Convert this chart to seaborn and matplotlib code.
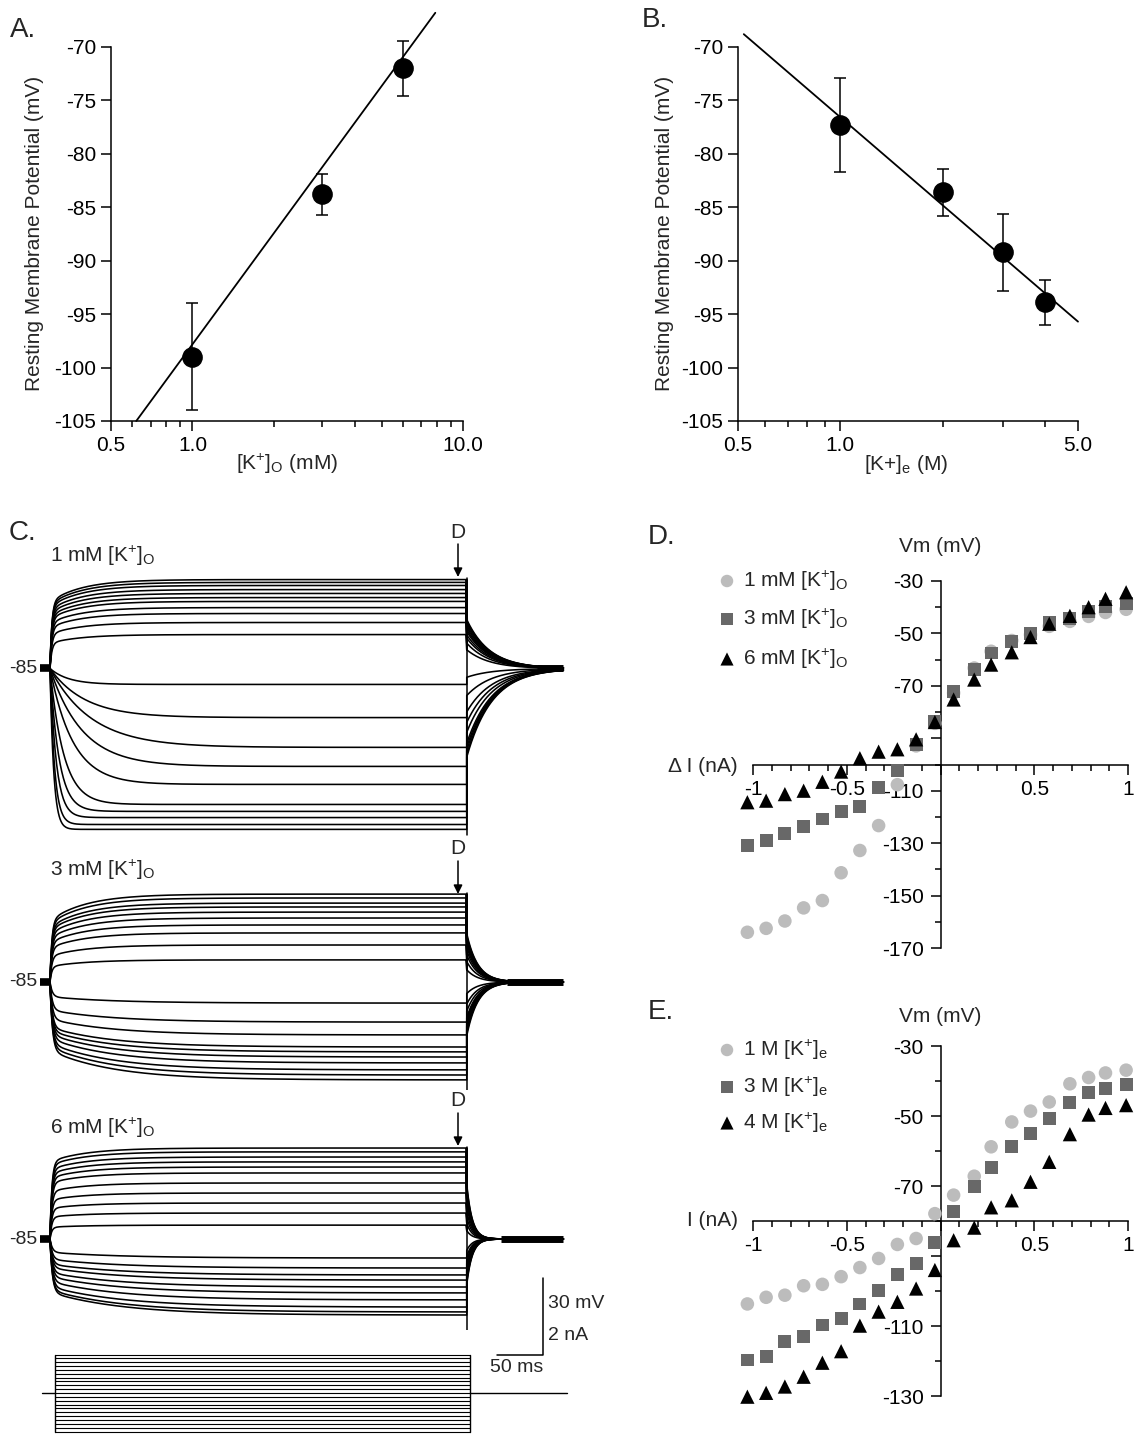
import numpy as np
import matplotlib
matplotlib.use("Agg")
import matplotlib.pyplot as plt
import seaborn as sns
import pandas as pd
from matplotlib.ticker import NullFormatter

# ---------------- DATA ----------------
# Panel A : resting potential vs [K+]o
a_conc = [1.0, 3.0, 6.0]
a_vm = [-99.0, -83.8, -72.0]
a_err = [5.0, 1.9, 2.6]
a_fit_x = [0.62, 7.9]
a_fit_y = [-105.0, -66.8]

# Panel B : resting potential vs [K+]e
b_conc = [1.0, 2.0, 3.0, 4.0]
b_vm = [-77.3, -83.6, -89.2, -93.9]
b_err = [4.4, 2.2, 3.6, 2.1]
b_fit_x = [0.52, 5.0]
b_fit_y = [-68.8, -95.7]

# Panel C : voltage responses (steady levels in mV at end of step)
c1_up = [-50.4, -51.5, -52.7, -54.3, -55.8, -57.4, -58.9, -61.3, -63.6, -67.1, -71.8]
c1_down = [-91.2, -104.1, -115.7, -123.1, -130.1, -137.9, -140.6, -143.0, -145.7, -147.6]
c1_down_tau = [20, 38, 45, 35, 25, 15, 10, 7, 5, 4]
c3_up = [-50.8, -52.3, -54.3, -55.8, -57.8, -60.1, -62.8, -65.9, -70.6, -76.4]
c3_down = [-93.2, -100.6, -105.6, -110.3, -112.2, -114.2, -116.5, -119.2, -121.2, -123.1]
c6_up = [-49.6, -51.1, -53.1, -55.0, -57.0, -59.3, -63.2, -67.1, -71.0, -74.9, -79.6]
c6_down = [-92.4, -96.3, -99.0, -101.0, -103.7, -106.0, -108.7, -111.5, -113.4, -114.6]
c_tail_tau = [25, 12, 6]
c_labels = ["1 mM [K$^{+}$]$_{\\mathrm{O}}$", "3 mM [K$^{+}$]$_{\\mathrm{O}}$", "6 mM [K$^{+}$]$_{\\mathrm{O}}$"]
step_currents = [round(-1.0 + 0.1 * i, 1) for i in range(21)]

# Panels D / E : I-V relations
iv_current = [-1.03, -0.93, -0.83, -0.73, -0.63, -0.53, -0.43, -0.33, -0.23, -0.13, -0.03,
              0.07, 0.18, 0.27, 0.38, 0.48, 0.58, 0.69, 0.79, 0.88, 0.99]
d_1mM = [-164.0, -162.5, -159.7, -154.7, -151.9, -141.3, -132.8, -123.3, -107.7, -92.9, -84.3,
         -72.7, -63.2, -56.8, -52.7, -50.5, -47.3, -45.4, -43.5, -42.0, -40.8]
d_3mM = [-130.9, -129.0, -126.2, -123.5, -120.8, -118.0, -116.0, -108.7, -102.4, -92.5, -83.7,
         -72.0, -63.8, -57.5, -53.0, -49.9, -45.8, -44.2, -41.6, -39.7, -38.5]
d_6mM = [-114.4, -113.8, -111.3, -110.0, -106.6, -102.7, -97.6, -95.1, -94.2, -90.4, -83.8,
         -75.2, -67.6, -61.9, -57.2, -51.4, -46.3, -43.3, -40.0, -36.8, -34.3]
e_1M = [-103.7, -101.8, -101.2, -98.5, -98.1, -95.9, -93.3, -90.7, -86.7, -85.0, -77.9,
        -72.6, -67.2, -58.8, -51.7, -48.6, -46.0, -40.8, -39.0, -37.7, -36.9]
e_3M = [-119.7, -118.6, -114.5, -113.1, -109.7, -107.8, -103.7, -99.9, -95.3, -92.1, -86.2,
        -77.2, -70.1, -64.7, -58.8, -55.0, -50.6, -46.2, -43.3, -42.2, -40.9]
e_4M = [-130.2, -129.1, -127.3, -124.5, -120.5, -117.2, -109.9, -105.9, -103.1, -99.3, -94.0,
        -85.5, -81.9, -76.1, -74.1, -68.8, -63.1, -55.2, -49.6, -47.7, -46.9]
d_labels = ["1 mM [K$^{+}$]$_{\\mathrm{O}}$", "3 mM [K$^{+}$]$_{\\mathrm{O}}$", "6 mM [K$^{+}$]$_{\\mathrm{O}}$"]
e_labels = ["1 M [K$^{+}$]$_{\\mathrm{e}}$", "3 M [K$^{+}$]$_{\\mathrm{e}}$", "4 M [K$^{+}$]$_{\\mathrm{e}}$"]

# ---------------- STYLE ----------------
sns.set_theme(style="ticks")
plt.rcParams["font.family"] = ["Liberation Sans", "DejaVu Sans"]
plt.rcParams["mathtext.fontset"] = "custom"
plt.rcParams["mathtext.rm"] = "Liberation Sans"
plt.rcParams["mathtext.it"] = "Liberation Sans:italic"
plt.rcParams["mathtext.bf"] = "Liberation Sans:bold"
plt.rcParams["axes.unicode_minus"] = False
plt.rcParams["axes.edgecolor"] = "black"
plt.rcParams["axes.linewidth"] = 1.1
plt.rcParams["xtick.color"] = "black"
plt.rcParams["ytick.color"] = "black"

W, H = 1146, 1435
fig = plt.figure(figsize=(W / 100, H / 100), dpi=100)
FS = 15
LETTER = 20
LIGHT, DARK = "#bcbcbc", "#686868"


def px_axes(x0, y0, x1, y1):
    return fig.add_axes([x0 / W, 1 - y1 / H, (x1 - x0) / W, (y1 - y0) / H])


def ftext(x, y, s, **kw):
    kw.setdefault("fontsize", FS)
    fig.text(x / W, 1 - y / H, s, **kw)


# ---------------- A & B ----------------
def rmp_panel(box, conc, vm, err, fx, fy, xmax, majors, majlabels, minors):
    ax = px_axes(*box)
    ax.set_xscale("log")
    eb = ax.errorbar(conc, vm, yerr=err, fmt="none", ecolor="black", elinewidth=1.1,
                     capsize=4, capthick=1.1)
    for art in list(eb.lines[1]) + list(eb.lines[2]):
        art.set_clip_on(False)
    sns.lineplot(x=fx, y=fy, color="black", lw=1.3, ax=ax, estimator=None)
    for ln in ax.lines:
        ln.set_clip_on(False)
    sns.scatterplot(x=conc, y=vm, s=190, color="black", edgecolor="black", ax=ax,
                    zorder=5, clip_on=False)
    ax.set_xlim(0.5, xmax)
    ax.set_ylim(-105, -70)
    ax.set_xticks(majors)
    ax.set_xticklabels(majlabels)
    ax.set_xticks(minors, minor=True)
    ax.xaxis.set_minor_formatter(NullFormatter())
    yt = list(range(-105, -69, 5))
    ax.set_yticks(yt)
    ax.set_yticklabels([str(v) for v in yt])
    for s in ["top", "right"]:
        ax.spines[s].set_visible(False)
    ax.tick_params(axis="both", which="major", length=7.5, width=1.1, direction="out",
                   labelsize=FS, pad=3)
    ax.tick_params(axis="x", which="minor", length=4.5, width=1.1, direction="out")
    ax.set_xlabel("")
    ax.set_ylabel("")
    ax.patch.set_alpha(0)
    return ax


rmp_panel((111, 47, 463, 421), a_conc, a_vm, a_err, a_fit_x, a_fit_y, 10.0,
          [0.5, 1.0, 10.0], ["0.5", "1.0", "10.0"],
          [0.6, 0.7, 0.8, 0.9, 2, 3, 4, 5, 6, 7, 8, 9])
rmp_panel((738, 47, 1078, 421), b_conc, b_vm, b_err, b_fit_x, b_fit_y, 5.0,
          [0.5, 1.0, 5.0], ["0.5", "1.0", "5.0"],
          [0.6, 0.7, 0.8, 0.9, 2, 3, 4])

ftext(10, 30, "A.", fontsize=LETTER, va="center")
ftext(642, 20, "B.", fontsize=LETTER, va="center")
ftext(35, 233, "Resting Membrane Potential (mV)", rotation=90, ha="center", va="center")
ftext(665, 233, "Resting Membrane Potential (mV)", rotation=90, ha="center", va="center")
ftext(287, 464, "[K$^{+}$]$_{\\mathrm{O}}$ (mM)", ha="center", va="center")
ftext(906, 464, "[K+]$_{\\mathrm{e}}$ (M)", ha="center", va="center")

# ---------------- C ----------------
PX_MS, PX_MV, X0 = 0.92, 2.57, 50
T_END, T_STOP = 453.0, 558.0


def c_axes(y0, y1, base_px):
    ax = px_axes(0, y0, 580, y1)
    ax.set_xlim(-X0 / PX_MS, (580 - X0) / PX_MS)
    ax.set_ylim(-85 - (y1 - base_px) / PX_MV, -85 + (base_px - y0) / PX_MV)
    ax.axis("off")
    return ax


def sweep(level, a, tf, ts, tail_tau, jump):
    base = -85.0
    t1 = np.linspace(0, T_END, 500)
    v1 = level + (base - level) * (a * np.exp(-t1 / tf) + (1 - a) * np.exp(-t1 / ts))
    t2 = np.linspace(T_END, T_STOP, 200)
    v2 = base + (v1[-1] - base) * (1 - jump) * np.exp(-(t2 - T_END) / tail_tau)
    return np.concatenate([t1, t2]), np.concatenate([v1, v2])


groups = [
    dict(box=(570, 840, 668.5), up=c1_up, down=c1_down, up_par=(0.75, 2, 35),
         down_taus=c1_down_tau, down_par=None, tail=c_tail_tau[0], jump=0.45,
         block=(529, 558), extra=2, label_y=556, d_y=532),
    dict(box=(885, 1090, 982), up=c3_up, down=c3_down, up_par=(0.7, 2, 40),
         down_taus=None, down_par=(0.7, 2.5, 70), tail=c_tail_tau[1], jump=0.45,
         block=(497, 558), extra=5, label_y=870, d_y=849),
    dict(box=(1140, 1330, 1239), up=c6_up, down=c6_down, up_par=(0.85, 2, 40),
         down_taus=None, down_par=(0.7, 2.5, 80), tail=c_tail_tau[2], jump=0.4,
         block=(490, 558), extra=12, label_y=1128, d_y=1101),
]

c_axes_list = []
for gi, g in enumerate(groups):
    y0, y1, bpx = g["box"]
    ax = c_axes(y0, y1, bpx)
    c_axes_list.append(ax)
    rows = []
    sid = 0
    for lv in g["up"]:
        t, v = sweep(lv, *g["up_par"], g["tail"], g["jump"])
        rows.append(pd.DataFrame({"t": t, "v": v, "sweep": sid}))
        sid += 1
    for k, lv in enumerate(g["down"]):
        if g["down_taus"] is not None:
            t, v = sweep(lv, 1.0, g["down_taus"][k], 10, g["tail"] * 1.1, g["jump"])
        else:
            t, v = sweep(lv, *g["down_par"], g["tail"], g["jump"])
        rows.append(pd.DataFrame({"t": t, "v": v, "sweep": sid}))
        sid += 1
    df = pd.concat(rows, ignore_index=True)
    sns.lineplot(data=df, x="t", y="v", units="sweep", estimator=None, color="black",
                 lw=1.15, ax=ax, legend=False)
    # step-end transient and end blocks
    ax.plot([T_END, T_END], [max(g["up"]) + 0.5, min(g["down"]) - g["extra"]],
            color="black", lw=1.1)
    ax.plot([-11, 0], [-85, -85], color="black", lw=5.5, solid_capstyle="butt")
    ax.plot(list(g["block"]), [-85, -85], color="black", lw=5.0, solid_capstyle="butt")
    ax.set_xlabel("")
    ax.set_ylabel("")
    ftext(50, g["label_y"], c_labels[gi], va="center")
    ftext(37, bpx, "-85", ha="right", va="center", fontsize=14)
    ftext(458, g["d_y"], "D", ha="center", va="center")

# scale bar (30 mV / 50 ms) drawn in data units on the last voltage axes
ax3 = c_axes_list[2]
sb_t = (543 - X0) / PX_MS
sb_v0 = -85 - (1355 - 1239) / PX_MV
ax3.plot([sb_t - 50, sb_t, sb_t], [sb_v0, sb_v0, sb_v0 + 30], color="black", lw=1.1,
         clip_on=False)
ftext(548, 1303, "30 mV", fontsize=14, va="center")
ftext(548, 1335, "2 nA", fontsize=14, va="center")
ftext(490, 1367, "50 ms", fontsize=14, va="center")

# current step protocol
axI = px_axes(0, 1345, 580, 1435)
axI.set_xlim(-X0 / PX_MS, (580 - X0) / PX_MS)
axI.set_ylim(-(1435 - 1393) / 38.5, (1393 - 1345) / 38.5)
axI.axis("off")
t_on, t_off = 5.0, 456.0
for cur in step_currents:
    axI.plot([t_on, t_off], [cur, cur], color="black", lw=0.8)
axI.plot([t_on, t_on], [min(step_currents), max(step_currents)], color="black", lw=1.0)
axI.plot([t_off, t_off], [min(step_currents), max(step_currents)], color="black", lw=1.0)
axI.plot([-9, t_on], [0, 0], color="black", lw=1.0)
axI.plot([t_off, 562], [0, 0], color="black", lw=1.0)

ftext(9, 533, "C.", fontsize=LETTER, va="center")

# ---------------- D & E ----------------
ov = fig.add_axes([0, 0, 1, 1])
ov.set_xlim(0, W)
ov.set_ylim(H, 0)
ov.axis("off")
ov.patch.set_alpha(0)


def iv_panel(box, ylo, yhi, ycross, majors, minors, series, labels, leg_y, top_label_y):
    ax = px_axes(*box)
    ax.set_xlim(-1, 1)
    ax.set_ylim(ylo, yhi)
    ax.spines["left"].set_position(("data", 0))
    ax.spines["bottom"].set_position(("data", ycross))
    ax.spines["top"].set_visible(False)
    ax.spines["right"].set_visible(False)
    ax.set_xticks([-1, -0.5, 0, 0.5, 1])
    ax.set_xticklabels(["-1", "-0.5", "", "0.5", "1"])
    ax.set_xticks([v / 10 for v in range(-9, 10) if v % 5 != 0], minor=True)
    ax.set_yticks(majors)
    ax.set_yticklabels([("" if v == -90 else str(v)) for v in majors])
    ax.set_yticks(minors, minor=True)
    ax.tick_params(axis="both", which="major", length=7, width=1.1, direction="out",
                   labelsize=FS)
    ax.tick_params(axis="y", which="major", pad=5)
    ax.tick_params(axis="x", which="major", pad=4)
    ax.tick_params(axis="both", which="minor", length=4.5, width=1.1, direction="out")
    styles = [("o", LIGHT, 95), ("s", DARK, 85), ("^", "black", 105)]
    for (mk, col, sz), yv in zip(styles, series):
        sns.scatterplot(x=iv_current, y=yv, marker=mk, s=sz, color=col, edgecolor="none",
                        ax=ax, zorder=5, clip_on=False)
    ax.set_xlabel("")
    ax.set_ylabel("")
    ax.patch.set_alpha(0)
    # legend
    for (mk, col, sz), lab, ly in zip(styles, labels, leg_y):
        ov.scatter([727], [ly], marker=mk, s=sz * 0.85, color=col, edgecolor="none",
                   clip_on=False)
        ftext(743, ly, lab, va="center")
    ftext(940, top_label_y, "Vm (mV)", ha="center", va="center")
    return ax


iv_panel((753, 581, 1128, 948), -170, -30, -100,
         [-30, -50, -70, -90, -110, -130, -150, -170],
         [-40, -60, -80, -100, -120, -140, -160],
         [d_1mM, d_3mM, d_6mM], d_labels, [581, 619, 659], 546)
ftext(738, 766, "Δ I (nA)", ha="right", va="center")
ftext(648, 537, "D.", fontsize=LETTER, va="center")

iv_panel((753, 1046, 1128, 1396), -130, -30, -80,
         [-30, -50, -70, -90, -110, -130],
         [-40, -60, -80, -100, -120],
         [e_1M, e_3M, e_4M], e_labels, [1050, 1087, 1123], 1016)
ftext(738, 1221, "I (nA)", ha="right", va="center")
ftext(648, 1012, "E.", fontsize=LETTER, va="center")

# D arrows in panel C
for g in groups:
    ov.annotate("", xy=(458, g["d_y"] + 45), xytext=(458, g["d_y"] + 12),
                arrowprops=dict(arrowstyle="-|>", color="black", lw=1.1,
                                mutation_scale=13, shrinkA=0, shrinkB=0))

fig.savefig("out.png", dpi=100, facecolor="white")
